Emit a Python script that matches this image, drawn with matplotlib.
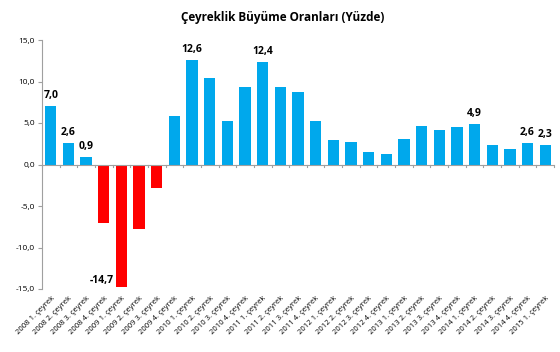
import matplotlib
matplotlib.use("Agg")
import matplotlib.pyplot as plt
import numpy as np

years = [2008] * 4 + [2009] * 4 + [2010] * 4 + [2011] * 4 + [2012] * 4 + [2013] * 4 + [2014] * 4 + [2015]
quarters = [1, 2, 3, 4] * 7 + [1]
labels = ["%d %d. çeyrek" % (y, q) for y, q in zip(years, quarters)]
growth = [7.0, 2.6, 0.9, -7.0,
          -14.7, -7.8, -2.8, 5.9,
          12.6, 10.4, 5.2, 9.3,
          12.4, 9.3, 8.7, 5.2,
          3.0, 2.7, 1.5, 1.3,
          3.1, 4.6, 4.2, 4.5,
          4.9, 2.3, 1.9, 2.6,
          2.3]
shown = [0, 1, 2, 4, 8, 12, 24, 27, 28]

plt.rcParams['font.family'] = ['Open Sans', 'DejaVu Sans']

fig = plt.figure(figsize=(5.6, 3.52), dpi=100)
ax = fig.add_axes([42 / 560, 1 - 289 / 352, 512 / 560, 249 / 352])

x = np.arange(len(growth))
colors = ['#00A8EC' if v >= 0 else '#FF0000' for v in growth]
ax.bar(x, growth, width=0.64, color=colors, zorder=2)

for i in shown:
    v = growth[i]
    txt = ("%.1f" % v).replace('.', ',')
    if v >= 0:
        ax.text(x[i], v + 0.6, txt, ha='center', va='bottom', fontsize=7.5, fontweight='bold')
    else:
        ax.text(x[i] - 0.45, v + 0.1, txt, ha='right', va='bottom', fontsize=7.5, fontweight='bold')

ax.set_xlim(-0.5, len(growth) - 0.5)
ax.set_ylim(-15, 15)
ax.set_yticks(np.arange(-15, 15.1, 5))
ax.set_yticklabels([("%.1f" % t).replace('.', ',') for t in np.arange(-15, 15.1, 5)], fontsize=6)

ax.axhline(0, color='#A0A0A0', linewidth=0.8, zorder=3)
for b in np.arange(-0.5, len(growth), 1.0):
    ax.plot([b, b], [0, -0.35], color='#A0A0A0', linewidth=0.8, zorder=3, clip_on=False)

ax.set_xticks(x)
ax.set_xticklabels(labels, rotation=45, ha='right', rotation_mode='anchor', fontsize=5.5)
ax.tick_params(axis='x', length=0, pad=4)
ax.tick_params(axis='y', length=3, color='#A0A0A0', pad=2)

for s in ['top', 'right', 'bottom']:
    ax.spines[s].set_visible(False)
ax.spines['left'].set_color('#A0A0A0')
ax.spines['left'].set_linewidth(0.8)

fig.text(283 / 560, 1 - 17 / 352, "Çeyreklik Büyüme Oranları (Yüzde)", ha='center', va='center',
         fontsize=8.5, fontweight='bold')

fig.savefig("out.png", dpi=100)
